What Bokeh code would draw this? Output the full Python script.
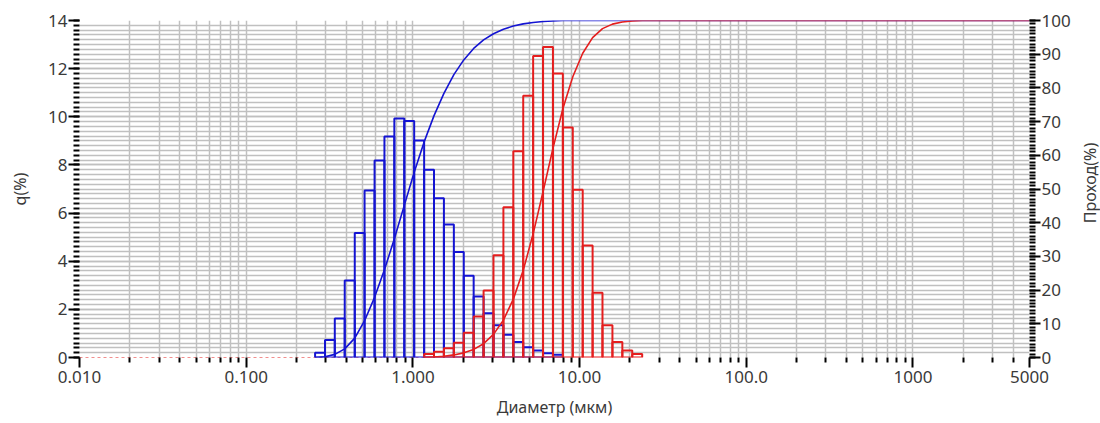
import numpy as np
from bokeh.plotting import figure
from bokeh.layouts import row
from bokeh.core.properties import value
from bokeh.models import LinearAxis, Range1d, FixedTicker, SingleIntervalTicker, ColumnDataSource
from bokeh.embed import file_html
from bokeh.resources import INLINE

# ---- data ----
bin_edges = [0.259, 0.297, 0.340, 0.390, 0.448, 0.513, 0.589, 0.675, 0.774, 0.888,
             1.018, 1.168, 1.339, 1.535, 1.761, 2.019, 2.315, 2.655, 3.044, 3.491,
             4.003, 4.590, 5.264, 6.036, 6.921, 7.937, 9.103, 10.44, 11.97, 13.72,
             15.74, 18.05, 20.70, 23.74]
blue_q = [0.20, 0.73, 1.62, 3.20, 5.17, 6.94, 8.18, 9.18, 9.93, 9.82,
          9.02, 7.80, 6.62, 5.53, 4.38, 3.40, 2.53, 1.84, 1.34, 0.94,
          0.64, 0.43, 0.29, 0.18, 0.11]
blue_first_bin = 0
red_q = [0.15, 0.24, 0.38, 0.61, 1.03, 1.70, 2.78, 4.25, 6.24, 8.57,
         10.87, 12.53, 12.90, 11.80, 9.55, 6.97, 4.65, 2.69, 1.34, 0.64,
         0.29, 0.15]
red_first_bin = 11

x_major = [0.01, 0.1, 1, 10, 100, 1000, 5000]
x_major_labels = ["0.010", "0.100", "1.000", "10.00", "100.0", "1000", "5000"]
x_minor = [m * 10.0 ** e for e in range(-2, 4) for m in range(2, 10) if m * 10.0 ** e < 5000]

X_MIN, X_MAX = 0.01, 5000
Q_MAX = 14
PASS_MAX = 100

BLUE = "#1414d2"
RED = "#e41e1e"
GRID = "#c0c0c0"
TXT = "#3a3a3a"
FONT = "Noto Sans"

H = 423
MAIN_W, SIDE_W = 1078, 22

p = figure(width=MAIN_W, height=H, x_axis_type="log",
           x_range=Range1d(X_MIN, X_MAX), y_range=Range1d(0, Q_MAX),
           output_backend="svg", toolbar_location=None,
           min_border_left=79, min_border_right=49, min_border_top=20, min_border_bottom=66)
p.outline_line_color = None
p.background_fill_color = "white"
p.border_fill_color = "white"

p.extra_y_ranges = {"pass": Range1d(0, PASS_MAX)}

# x axis
xax = p.xaxis[0]
xax.ticker = FixedTicker(ticks=x_major, minor_ticks=x_minor)
xax.major_label_overrides = {v: s for v, s in zip(x_major, x_major_labels)}
xax.axis_label = "Диаметр (мкм)"

yax = p.yaxis[0]
yax.ticker = SingleIntervalTicker(interval=2, num_minor_ticks=10)
yax.axis_label = "q(%)"

rax = LinearAxis(y_range_name="pass", ticker=SingleIntervalTicker(interval=10, num_minor_ticks=10))
p.add_layout(rax, "right")

for ax in [xax, yax, rax]:
    ax.axis_line_color = None
    ax.major_tick_line_color = "black"
    ax.major_tick_line_width = 2
    ax.minor_tick_line_color = "black"
    ax.minor_tick_line_width = 2
    ax.major_tick_in = 0
    ax.minor_tick_in = 0
    ax.major_tick_out = 11
    ax.minor_tick_out = 6
    ax.major_label_text_font = FONT
    ax.major_label_text_font_size = "17px"
    ax.major_label_text_color = TXT
    ax.axis_label_text_font = FONT
    ax.axis_label_text_font_size = "16px"
    ax.axis_label_text_font_style = "normal"
    ax.axis_label_text_color = TXT
    ax.major_label_standoff = 1
xax.major_label_standoff = 3
xax.minor_tick_out = 5
xax.major_tick_out = 10
xax.axis_label_standoff = 10
yax.axis_label_standoff = 14

p.xgrid.grid_line_color = GRID
p.xgrid.grid_line_width = 1.5
p.xgrid.minor_grid_line_color = GRID
p.xgrid.minor_grid_line_width = 1.5
p.ygrid.grid_line_color = GRID
p.ygrid.grid_line_width = 1.5
p.ygrid.minor_grid_line_color = GRID
p.ygrid.minor_grid_line_width = 1.5

# zero level of the cumulative curves
p.line([X_MIN, bin_edges[red_first_bin]], [0, 0], y_range_name="pass",
       line_color=RED, line_width=1, line_dash="3 3")


def draw(q, first, color):
    n = len(q)
    lefts = bin_edges[first:first + n]
    rights = bin_edges[first + 1:first + n + 1]
    src = ColumnDataSource(dict(left=lefts, right=rights, top=q, bottom=[0] * n))
    p.quad(left="left", right="right", top="top", bottom="bottom", source=src,
           fill_color=None, line_color=color, line_width=2)
    cum = np.concatenate([[0.0], np.cumsum(q)])
    cum = cum / cum[-1] * PASS_MAX
    xs = list(bin_edges[first:first + n + 1]) + [X_MAX]
    ys = list(cum) + [PASS_MAX]
    p.line(xs, ys, y_range_name="pass", line_color=color, line_width=1.6)


draw(blue_q, blue_first_bin, BLUE)
draw(red_q, red_first_bin, RED)

# narrow strip carrying the right axis title, reading bottom-to-top
side = figure(width=SIDE_W, height=H, x_range=Range1d(0, SIDE_W), y_range=Range1d(0, H),
              x_axis_location=None, y_axis_location=None,
              output_backend="svg", toolbar_location=None,
              min_border_left=0, min_border_right=0, min_border_top=0, min_border_bottom=0)
side.outline_line_color = None
side.grid.visible = False
side.background_fill_color = "white"
side.border_fill_color = "white"
side.text(x=[SIDE_W / 2], y=[H - 204], text=["Проход(%)"], angle=np.pi / 2,
          text_align="center", text_baseline="middle", text_font=value(FONT),
          text_font_size="16px", text_color=TXT)

layout = row(p, side, spacing=0)
open("out.html", "w").write(file_html(layout, INLINE))
